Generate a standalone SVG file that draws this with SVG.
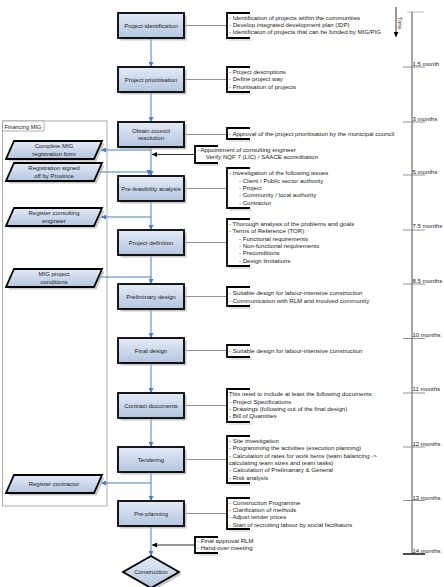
<svg xmlns="http://www.w3.org/2000/svg" width="444" height="587" viewBox="0 0 444 587">
<defs>
<linearGradient id="g" x1="0" y1="0" x2="0" y2="1">
<stop offset="0" stop-color="#e4ebf6"/>
<stop offset="1" stop-color="#b3c5df"/>
</linearGradient>
<marker id="ab" viewBox="0 0 10 10" refX="10" refY="5" markerWidth="5" markerHeight="5" markerUnits="userSpaceOnUse" orient="auto">
<path d="M0,0 L10,5 L0,10 z" fill="#4a7ebb"/>
</marker>
<marker id="ak" viewBox="0 0 10 10" refX="10" refY="5" markerWidth="5" markerHeight="5" markerUnits="userSpaceOnUse" orient="auto">
<path d="M0,0 L10,5 L0,10 z" fill="#000"/>
</marker>
</defs>
<style>
text{font-family:"Liberation Sans",Arial,sans-serif;fill:#222}
.box{fill:url(#g);stroke:#000;stroke-width:1.8}
.sh{fill:#b0b0b0;opacity:0.7}
.bl{font-size:6px;text-anchor:middle}
.tx{font-size:6.1px}
.fl{font-size:5.7px}
.br{fill:none;stroke:#000;stroke-width:1.8}
.bs{stroke:#d0d0d0;stroke-width:1.2}
.flow{stroke:#4a7ebb;stroke-width:1;fill:none}
.side{stroke:#777;stroke-width:0.8;fill:none}
.blk{stroke:#000;stroke-width:0.8;fill:none}
.tick{stroke:#777;stroke-width:0.8}
.tl{font-size:6px}
</style>

<g id="financing-mig">
<rect x="2.5" y="121" width="104.5" height="385" fill="#fff" stroke="#999" stroke-width="0.8"/>
<rect x="2.5" y="121" width="41.5" height="10" fill="#fff" stroke="#999" stroke-width="0.8"/>
<text x="4.5" y="128.5" class="fl">Financing MIG</text>
</g>

<g id="connectors">
<line class="flow" x1="151" y1="38" x2="151" y2="67" marker-end="url(#ab)"/>
<line class="flow" x1="151" y1="92" x2="151" y2="122" marker-end="url(#ab)"/>
<line class="flow" x1="151" y1="147" x2="151" y2="176" marker-end="url(#ab)"/>
<line class="flow" x1="151" y1="201" x2="151" y2="230" marker-end="url(#ab)"/>
<line class="flow" x1="151" y1="255" x2="151" y2="284" marker-end="url(#ab)"/>
<line class="flow" x1="151" y1="310" x2="151" y2="338" marker-end="url(#ab)"/>
<line class="flow" x1="151" y1="364" x2="151" y2="393" marker-end="url(#ab)"/>
<line class="flow" x1="151" y1="418" x2="151" y2="447" marker-end="url(#ab)"/>
<line class="flow" x1="151" y1="473" x2="151" y2="501" marker-end="url(#ab)"/>
<line class="flow" x1="151" y1="527" x2="151" y2="556" marker-end="url(#ab)"/>
<line class="flow" x1="151" y1="150" x2="101" y2="150" marker-end="url(#ab)"/>
<polyline class="flow" points="99,172 149,172 149,175" marker-end="url(#ab)"/>
<line class="flow" x1="151" y1="217" x2="101" y2="217" marker-end="url(#ab)"/>
<polyline class="flow" points="99,277 151,277"/>
<line class="flow" x1="151" y1="483" x2="101" y2="483" marker-end="url(#ab)"/>
<line class="blk" x1="195" y1="154.5" x2="152" y2="154.5" marker-end="url(#ak)"/>
<line class="blk" x1="195" y1="545" x2="152" y2="545" marker-end="url(#ak)"/>
<line class="side" x1="184" y1="25.5" x2="227" y2="25.5"/>
<line class="side" x1="184" y1="79.5" x2="227" y2="79.5"/>
<line class="side" x1="184" y1="134.5" x2="227" y2="134.5"/>
<line class="side" x1="184" y1="188.5" x2="227" y2="188.5"/>
<line class="side" x1="184" y1="242.5" x2="227" y2="242.5"/>
<line class="side" x1="184" y1="296.5" x2="227" y2="296.5"/>
<line class="side" x1="184" y1="350.5" x2="227" y2="350.5"/>
<line class="side" x1="184" y1="405.5" x2="227" y2="405.5"/>
<line class="side" x1="184" y1="459.5" x2="227" y2="459.5"/>
<line class="side" x1="184" y1="513.5" x2="227" y2="513.5"/>
</g>

<g id="project-identification">
<rect class="sh" x="120.5" y="15.5" width="66" height="25"/>
<rect class="box" x="118" y="13" width="66" height="25"/>
<text class="bl" x="151" y="27.5">Project identification</text>
</g>
<g id="project-prioritisation">
<rect class="sh" x="120.5" y="69.5" width="66" height="25"/>
<rect class="box" x="118" y="67" width="66" height="25"/>
<text class="bl" x="151" y="81.5">Project prioritisation</text>
</g>
<g id="obtain-council-resolution">
<rect class="sh" x="120.5" y="124.5" width="66" height="25"/>
<rect class="box" x="118" y="122" width="66" height="25"/>
<text class="bl" x="151" y="133">Obtain council</text>
<text class="bl" x="151" y="140">resolution</text>
</g>
<g id="pre-feasibility-analysis">
<rect class="sh" x="120.5" y="178.5" width="66" height="25"/>
<rect class="box" x="118" y="176" width="66" height="25"/>
<text class="bl" x="151" y="190.5">Pre-feasibility analysis</text>
</g>
<g id="project-definition">
<rect class="sh" x="120.5" y="232.5" width="66" height="25"/>
<rect class="box" x="118" y="230" width="66" height="25"/>
<text class="bl" x="151" y="244.5">Project definition</text>
</g>
<g id="preliminary-design">
<rect class="sh" x="120.5" y="286.5" width="66" height="25"/>
<rect class="box" x="118" y="284" width="66" height="25"/>
<text class="bl" x="151" y="298.5">Preliminary design</text>
</g>
<g id="final-design">
<rect class="sh" x="120.5" y="340.5" width="66" height="25"/>
<rect class="box" x="118" y="338" width="66" height="25"/>
<text class="bl" x="151" y="352.5">Final design</text>
</g>
<g id="contract-documents">
<rect class="sh" x="120.5" y="395.5" width="66" height="25"/>
<rect class="box" x="118" y="393" width="66" height="25"/>
<text class="bl" x="151" y="407.5">Contract documents</text>
</g>
<g id="tendering">
<rect class="sh" x="120.5" y="449.5" width="66" height="25"/>
<rect class="box" x="118" y="447" width="66" height="25"/>
<text class="bl" x="151" y="461.5">Tendering</text>
</g>
<g id="pre-planning">
<rect class="sh" x="120.5" y="503.5" width="66" height="25"/>
<rect class="box" x="118" y="501" width="66" height="25"/>
<text class="bl" x="151" y="515.5">Pre-planning</text>
</g>
<g id="construction">
<polygon class="sh" points="153.5,558.5 181.5,574.5 153.5,590.5 125.5,574.5"/>
<polygon class="box" points="151,556 179,572 151,588 123,572"/>
<text class="bl" x="151" y="574">Construction</text>
</g>

<g id="complete-mig-registration-form">
<polygon class="sh" points="16.5,143.5 104.5,143.5 96.5,161.5 8.5,161.5"/>
<polygon class="box" points="14,141 102,141 94,159 6,159"/>
<text class="bl" x="54" y="148">Complete MIG</text>
<text class="bl" x="54" y="155.5">registration form</text>
</g>
<g id="registration-signed-off">
<polygon class="sh" points="16.5,165.5 104.5,165.5 96.5,183.5 8.5,183.5"/>
<polygon class="box" points="14,163 102,163 94,181 6,181"/>
<text class="bl" x="54" y="170">Registration signed</text>
<text class="bl" x="54" y="177.5">off by Province</text>
</g>
<g id="register-consulting-engineer">
<polygon class="sh" points="16.5,210.5 104.5,210.5 96.5,228.5 8.5,228.5"/>
<polygon class="box" points="14,208 102,208 94,226 6,226"/>
<text class="bl" x="54" y="215">Register consulting</text>
<text class="bl" x="54" y="222.5">engineer</text>
</g>
<g id="mig-project-conditions">
<polygon class="sh" points="16.5,271.5 104.5,271.5 96.5,289.5 8.5,289.5"/>
<polygon class="box" points="14,269 102,269 94,287 6,287"/>
<text class="bl" x="54" y="276">MIG project</text>
<text class="bl" x="54" y="283.5">conditions</text>
</g>
<g id="register-contractor">
<polygon class="sh" points="16.5,477.5 104.5,477.5 96.5,495.5 8.5,495.5"/>
<polygon class="box" points="14,475 102,475 94,493 6,493"/>
<text class="bl" x="54" y="486">Register contractor</text>
</g>

<g id="note-identification">
<line class="bs" x1="229" y1="40" x2="252" y2="40"/>
<path class="br" d="M250,13 H227 V38 H250"/>
<text class="tx" x="229" y="19.5">- Identification of projects within the communities</text>
<text class="tx" x="229" y="26.8">- Develop integrated development plan (IDP)</text>
<text class="tx" x="229" y="34.2">- Identificaton of projects that can be funded by MIG/PIG</text>
</g>
<g id="note-prioritisation">
<line class="bs" x1="229" y1="94" x2="252" y2="94"/>
<path class="br" d="M250,67 H227 V92 H250"/>
<text class="tx" x="229" y="74">- Project descriptions</text>
<text class="tx" x="229" y="81.3">- Define project way</text>
<text class="tx" x="229" y="88.7">- Prioritisation of projects</text>
</g>
<g id="note-council">
<line class="bs" x1="229" y1="141" x2="252" y2="141"/>
<path class="br" d="M250,128 H227 V139 H250"/>
<text class="tx" x="229" y="136">- Approval of the project prioritisation by the municipal council</text>
</g>
<g id="note-appointment">
<line class="bs" x1="197" y1="165" x2="220" y2="165"/>
<path class="br" d="M218,146 H195 V163 H218"/>
<text class="tx" x="197" y="152">- Appointment of consulting engineer</text>
<text class="tx" x="206" y="159.3">Verify NQF 7 (LIC) / SAACE accreditation</text>
</g>
<g id="note-prefeasibility">
<line class="bs" x1="229" y1="210" x2="252" y2="210"/>
<path class="br" d="M250,168 H227 V208 H250"/>
<text class="tx" x="229" y="175.3">- Investigation of the following issues</text>
<text class="tx" x="239" y="182.7">- Client / Public sector authority</text>
<text class="tx" x="239" y="190">- Project</text>
<text class="tx" x="239" y="197.3">- Community / local authority</text>
<text class="tx" x="239" y="204.7">- Contractor</text>
</g>
<g id="note-definition">
<line class="bs" x1="229" y1="268" x2="252" y2="268"/>
<path class="br" d="M250,219 H227 V266 H250"/>
<text class="tx" x="229" y="225.7">- Thorough analysis of the problems and goals</text>
<text class="tx" x="229" y="233">- Terms of Reference (TOR):</text>
<text class="tx" x="239" y="240.7">- Functional requirements</text>
<text class="tx" x="239" y="248">- Non-functional requirements</text>
<text class="tx" x="239" y="255.3">- Preconditions</text>
<text class="tx" x="239" y="262.7">- Design limitations</text>
</g>
<g id="note-preliminary">
<line class="bs" x1="229" y1="308" x2="252" y2="308"/>
<path class="br" d="M250,287 H227 V306 H250"/>
<text class="tx" x="229" y="295.3">- Suitable design for labour-intensive construction</text>
<text class="tx" x="229" y="302.7">- Communication with RLM and involved community</text>
</g>
<g id="note-final">
<line class="bs" x1="229" y1="359" x2="252" y2="359"/>
<path class="br" d="M250,345 H227 V357 H250"/>
<text class="tx" x="229" y="352.7">- Suitable design for labour-intensive construction</text>
</g>
<g id="note-contract">
<line class="bs" x1="229" y1="424" x2="252" y2="424"/>
<path class="br" d="M250,389 H227 V422 H250"/>
<text class="tx" x="228.7" y="396.3">This need to include at least the following documents:</text>
<text class="tx" x="229" y="403.7">- Project Specifications</text>
<text class="tx" x="229" y="411">- Drawings (following out of the final design)</text>
<text class="tx" x="229" y="418.3">- Bill of Quantities</text>
</g>
<g id="note-tendering">
<line class="bs" x1="229" y1="485" x2="252" y2="485"/>
<path class="br" d="M250,436 H227 V483 H250"/>
<text class="tx" x="229" y="443">- Site investigation</text>
<text class="tx" x="229" y="450.3">- Programming the activities (execution planning)</text>
<text class="tx" x="229" y="457.7">- Calculation of rates for work items (team balancing -&gt;</text>
<text class="tx" x="228.7" y="465">calculating team sizes and team tasks)</text>
<text class="tx" x="229" y="472.3">- Calculation of Prelimanary &amp; General</text>
<text class="tx" x="229" y="479.7">- Risk analysis</text>
</g>
<g id="note-preplanning">
<line class="bs" x1="229" y1="531" x2="252" y2="531"/>
<path class="br" d="M250,498 H227 V529 H250"/>
<text class="tx" x="229" y="504.7">- Construction Programme</text>
<text class="tx" x="229" y="512">- Clarification of methods</text>
<text class="tx" x="229" y="519.3">- Adjust tender prices</text>
<text class="tx" x="229" y="526.7">- Start of recruiting labour by social facilitators</text>
</g>
<g id="note-approval">
<line class="bs" x1="197" y1="555" x2="220" y2="555"/>
<path class="br" d="M218,537 H195 V553 H218"/>
<text class="tx" x="197" y="542.7">- Final approval RLM</text>
<text class="tx" x="197" y="550">- Hand-over meeting</text>
</g>

<g id="time-axis">
<line x1="396" y1="7" x2="396" y2="37" stroke="#000" stroke-width="0.8" marker-end="url(#ak)"/>
<text class="fl" transform="translate(398,17) rotate(90)">Time</text>
<line x1="407" y1="12" x2="424" y2="12" stroke="#aaa" stroke-width="0.8"/>
<line x1="412" y1="12" x2="412" y2="554" stroke="#222" stroke-width="0.8"/>
<line class="tick" x1="403" y1="67" x2="425" y2="67"/>
<line class="tick" x1="403" y1="122" x2="425" y2="122"/>
<line class="tick" x1="403" y1="175" x2="425" y2="175"/>
<line class="tick" x1="403" y1="230" x2="425" y2="230"/>
<line class="tick" x1="403" y1="284" x2="425" y2="284"/>
<line class="tick" x1="403" y1="338.5" x2="425" y2="338.5"/>
<line class="tick" x1="403" y1="393" x2="425" y2="393" stroke="#aaa"/>
<line class="tick" x1="403" y1="447" x2="425" y2="447"/>
<line class="tick" x1="403" y1="500.5" x2="425" y2="500.5"/>
<line x1="403" y1="554" x2="425" y2="554" stroke="#000" stroke-width="1.4"/>
<text class="tl" x="412.5" y="65.5">1,5 month</text>
<text class="tl" x="412.5" y="121">3 months</text>
<text class="tl" x="412.5" y="174">5 months</text>
<text class="tl" x="412.5" y="228">7.5 months</text>
<text class="tl" x="412.5" y="283">8.5 months</text>
<text class="tl" x="412.5" y="337">10 months</text>
<text class="tl" x="412.5" y="390.5">11 months</text>
<text class="tl" x="412.5" y="446">12 months</text>
<text class="tl" x="412.5" y="500">13 months</text>
<text class="tl" x="412.5" y="552.5">14 months</text>
</g>
</svg>
